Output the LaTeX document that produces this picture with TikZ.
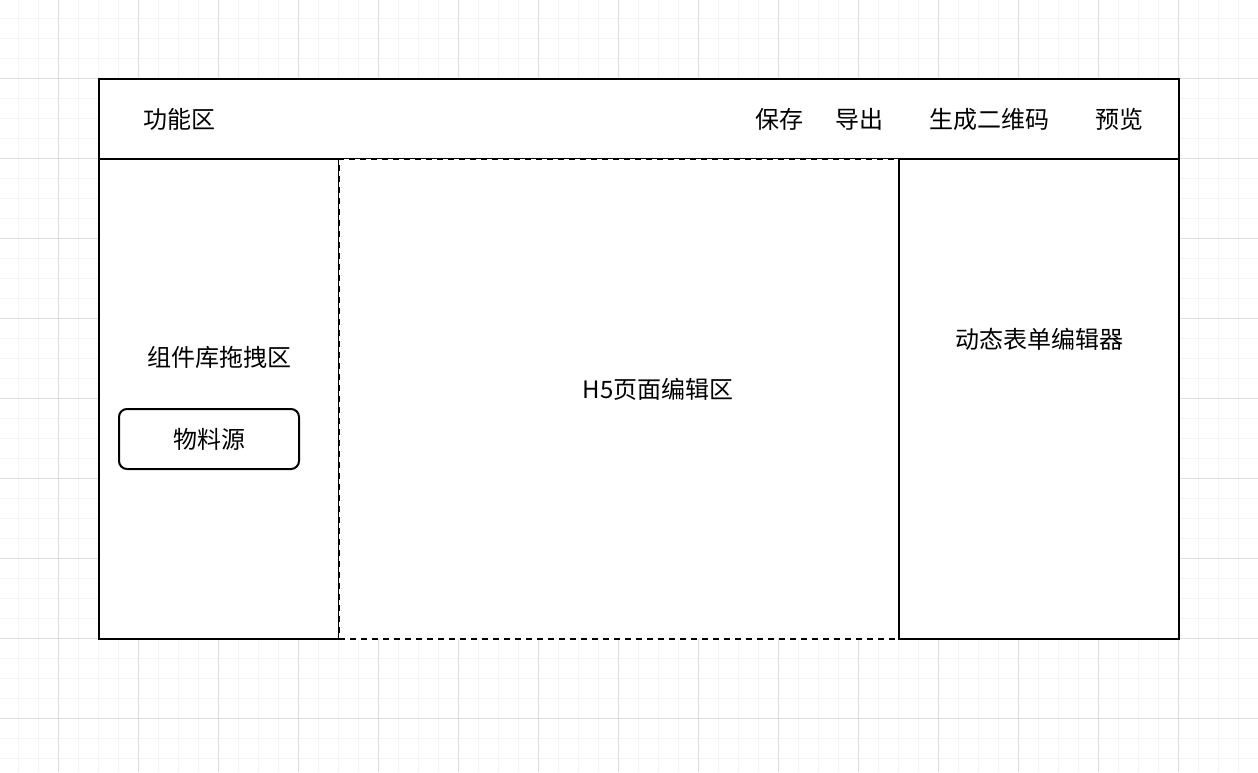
\documentclass[tikz,border=0pt]{standalone}
\usepackage{fontspec}
\setmainfont{Noto Sans CJK SC}
\usepackage{tikz}
\usetikzlibrary{positioning}

\definecolor{gridminor}{HTML}{F4F4F4}
\definecolor{gridmajor}{HTML}{DEDEDE}

\tikzset{
	panel/.style={draw=black, line width=2pt, fill=white, inner sep=0pt},
	dashpanel/.style={panel, dash pattern=on 6pt off 5pt},
	item/.style={font=\fontsize{24}{28}\selectfont, inner sep=0pt},
	srcbox/.style={draw=black, line width=2pt, rounded corners=8pt, minimum width=180pt, minimum height=60pt, font=\fontsize{24}{28}\selectfont}
}

\begin{document}
\begin{tikzpicture}[x=1pt, y=-1pt]
	\useasboundingbox[fill=white] (0,0) rectangle (1258,772);
	\foreach \x in {18,38,...,1238} \draw[gridminor, line width=1pt] (\x,0) -- (\x,772);
	\foreach \y in {18,38,...,758} \draw[gridminor, line width=1pt] (0,\y) -- (1258,\y);
	\foreach \x in {58,138,...,1218} \draw[gridmajor, line width=1pt] (\x,0) -- (\x,772);
	\foreach \y in {78,158,...,718} \draw[gridmajor, line width=1pt] (0,\y) -- (1258,\y);
	\node[panel, minimum width=1080pt, minimum height=80pt] (header) at (639,119) {};
	\node[panel, minimum width=240pt, minimum height=480pt] (library) at (219,399) {};
	\node[dashpanel, minimum width=560pt, minimum height=480pt] (canvas) at (619,399) {};
	\node[panel, minimum width=280pt, minimum height=480pt] (formeditor) at (1039,399) {};
	\node[item] (funcarea) at (179,119) {功能区};
	\node[item] (save) at (779,119) {保存};
	\node[item] (export) at (859,119) {导出};
	\node[item] (qrcode) at (989,119) {生成二维码};
	\node[item] (preview) at (1119,119) {预览};
	\node[item] (librarylabel) at (219,357) {组件库拖拽区};
	\node[srcbox] (material) at (209,439) {物料源};
	\node[item] (canvaslabel) at (658,389) {H5页面编辑区};
	\node[item] (formlabel) at (1039,339) {动态表单编辑器};
\end{tikzpicture}
\end{document}
